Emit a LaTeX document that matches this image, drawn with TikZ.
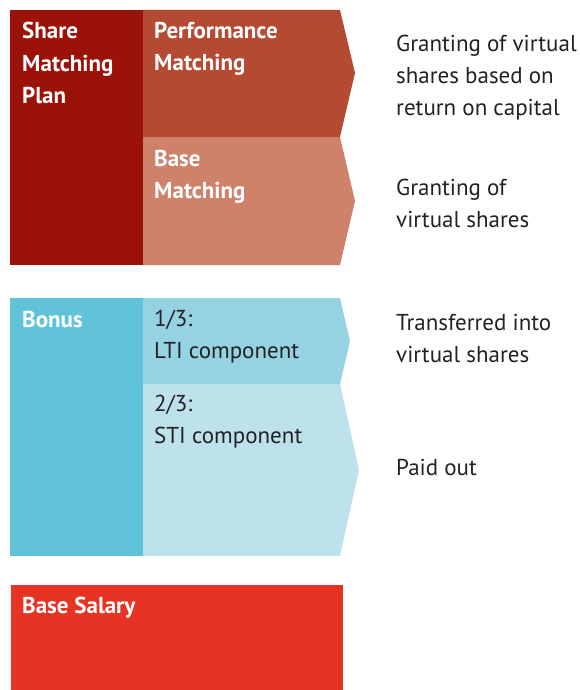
\documentclass[tikz,border=0pt]{standalone}
\usepackage{fontspec}
\setmainfont{PT Sans}
\usetikzlibrary{positioning}
\definecolor{planred}{HTML}{9B1208}
\definecolor{perfred}{HTML}{B54A32}
\definecolor{baseorange}{HTML}{CF826A}
\definecolor{bonusblue}{HTML}{60C3DA}
\definecolor{ltiblue}{HTML}{95D2E2}
\definecolor{stiblue}{HTML}{BDE2EC}
\definecolor{salaryred}{HTML}{E63323}
\definecolor{txtgray}{HTML}{222222}
\tikzset{
  boxlbl/.style={anchor=base west, inner sep=0pt, align=left, text=white,
    font=\fontsize{23}{32}\selectfont\bfseries},
  sublbl/.style={anchor=base west, inner sep=0pt, align=left, text=txtgray,
    font=\fontsize{23}{31.5}\selectfont},
  desc/.style={anchor=base west, inner sep=0pt, align=left, text=txtgray,
    font=\fontsize{23}{31.5}\selectfont}
}

\begin{document}
\begin{tikzpicture}[x=1pt, y=-1pt]
			%%%%% START %%%%%
			\useasboundingbox (0, 0) rectangle (580, 690);
			
			% share matching plan
			\fill[planred] (10, 10) rectangle (143, 265);
			\fill[perfred] (143, 10) -- (340, 10) -- (355, 73) -- (340, 137) -- (143, 137) -- cycle;
			\fill[baseorange] (143, 137) -- (340, 137) -- (355, 201) -- (340, 265) -- (143, 265) -- cycle;
			
			% bonus
			\fill[bonusblue] (10, 298) rectangle (143, 556);
			\fill[ltiblue] (143, 298) -- (340, 298) -- (350, 341) -- (340, 384) -- (143, 384) -- cycle;
			\fill[stiblue] (143, 384) -- (340, 384) -- (359, 470) -- (340, 556) -- (143, 556) -- cycle;
			
			% base salary
			\fill[salaryred] (11, 585) rectangle (343, 690);
			
			% labels (anchored at the baseline of the last line)
			\node[boxlbl] (plan) at (22, 103) {Share\\Matching\\Plan};
			\node[boxlbl] (perf) at (154, 71) {Performance\\Matching};
			\node[boxlbl] (basem) at (154, 198) {Base\\Matching};
			\node[boxlbl] (bonus) at (22, 327) {Bonus};
			\node[sublbl] (lti) at (154, 358) {1/3:\\LTI component};
			\node[sublbl] (sti) at (154, 443) {2/3:\\STI component};
			\node[boxlbl] (salary) at (22, 613) {Base Salary};
			
			\node[desc] (perfdesc) at (396, 115) {Granting of virtual\\shares based on\\return on capital};
			\node[desc] (basedesc) at (396, 227) {Granting of\\virtual shares};
			\node[desc] (ltidesc) at (396, 362) {Transferred into\\virtual shares};
			\node[desc] (stidesc) at (396, 475) {Paid out};
			
			%%%%% END %%%%%
		\end{tikzpicture}
\end{document}
